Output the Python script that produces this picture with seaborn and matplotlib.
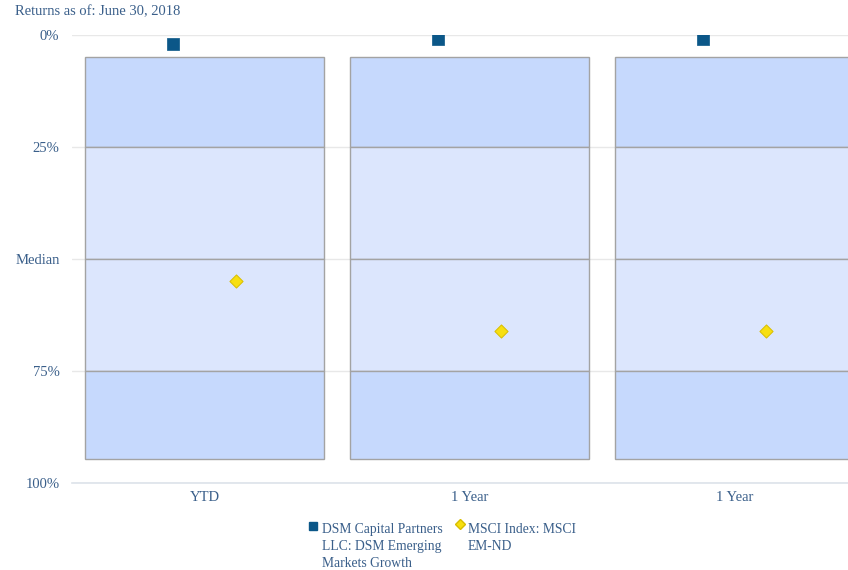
import numpy as np
import pandas as pd
import seaborn as sns
import matplotlib.pyplot as plt
from matplotlib.lines import Line2D

# data
periods = ["YTD", "1 Year", "1 Year"]
band_low = [5, 5, 5]
q1 = [25, 25, 25]
median = [50, 50, 50]
q3 = [75, 75, 75]
band_high = [94.6, 94.6, 94.6]
fund_rank = [2, 1, 1]
index_rank = [55, 66, 66]
fund_name = "DSM Capital Partners\nLLC: DSM Emerging\nMarkets Growth"
index_name = "MSCI Index: MSCI\nEM-ND"

text_col = "#3a5f8a"
outer_col = "#c6d9fd"
inner_col = "#dce6fd"
edge_col = "#a3a3a3"

sns.set_theme(style="white")
plt.rcParams["font.family"] = ["Liberation Serif", "DejaVu Serif"]

fig = plt.figure(figsize=(8.48, 5.70), dpi=100)
ax = fig.add_axes([72 / 848, 87 / 570, 795 / 848, 448 / 570])

pos = np.arange(len(periods))
low = np.array(band_low)
a = np.array(q1)
m = np.array(median)
b = np.array(q3)
high = np.array(band_high)

w = 0.9
ax.bar(pos, a - low, bottom=low, width=w, color=outer_col, edgecolor=edge_col, linewidth=1, zorder=2)
ax.bar(pos, m - a, bottom=a, width=w, color=inner_col, edgecolor=edge_col, linewidth=1, zorder=2)
ax.bar(pos, b - m, bottom=m, width=w, color=inner_col, edgecolor=edge_col, linewidth=1, zorder=2)
ax.bar(pos, high - b, bottom=b, width=w, color=outer_col, edgecolor=edge_col, linewidth=1, zorder=2)

df = pd.DataFrame({"pos": pos, "fund": fund_rank, "index": index_rank})
sns.scatterplot(x=df["pos"] - 0.117, y=df["fund"], marker="s", s=70, color="#0b5788",
                edgecolor="#0b5788", linewidth=0.5, ax=ax, zorder=4)
sns.scatterplot(x=df["pos"] + 0.117, y=df["index"], marker="D", s=45, color="#f7df10",
                edgecolor="#d8bd00", linewidth=0.7, ax=ax, zorder=4)

ax.set_xlim(-0.5, len(periods) - 0.5)
ax.set_ylim(100, 0)
ax.set_xlabel("")
ax.set_ylabel("")

ax.set_yticks([0, 25, 50, 75, 100])
ax.set_yticklabels(["0%", "25%", "Median", "75%", "100%"])
ax.set_xticks(pos)
ax.set_xticklabels(periods)
ax.set_xticks(np.arange(len(periods)) - 0.5, minor=True)
ax.tick_params(axis="y", length=0, pad=9, labelsize=10.5, labelcolor=text_col)
ax.tick_params(axis="x", which="major", length=0, pad=6, labelsize=10.5, labelcolor=text_col)
ax.tick_params(axis="x", which="minor", length=9, width=1, color="#dde3ea", direction="out")

ax.yaxis.grid(True, color="#e8e8e8", linewidth=1, zorder=0)
ax.set_axisbelow(True)
for s in ["top", "right", "left"]:
    ax.spines[s].set_visible(False)
ax.spines["bottom"].set_color("#dde3ea")
ax.spines["bottom"].set_linewidth(1.2)

fig.text(15 / 848, 1 - 12 / 570, "Returns as of: June 30, 2018", fontsize=10.5,
         color=text_col, va="center", ha="left")

# legend
fig.add_artist(Line2D([313 / 848], [1 - 526 / 570], marker="s", markersize=6,
                      color="#0b5788", linestyle="none", transform=fig.transFigure))
fig.text(322 / 848, 1 - 523 / 570, fund_name, fontsize=9.8, color=text_col,
         va="top", ha="left", linespacing=1.4)
fig.add_artist(Line2D([460 / 848], [1 - 524 / 570], marker="D", markersize=5,
                      color="#f7df10", markeredgecolor="#d8bd00", linestyle="none",
                      transform=fig.transFigure))
fig.text(468 / 848, 1 - 523 / 570, index_name, fontsize=9.8, color=text_col,
         va="top", ha="left", linespacing=1.4)

fig.savefig("out.png", dpi=100)
